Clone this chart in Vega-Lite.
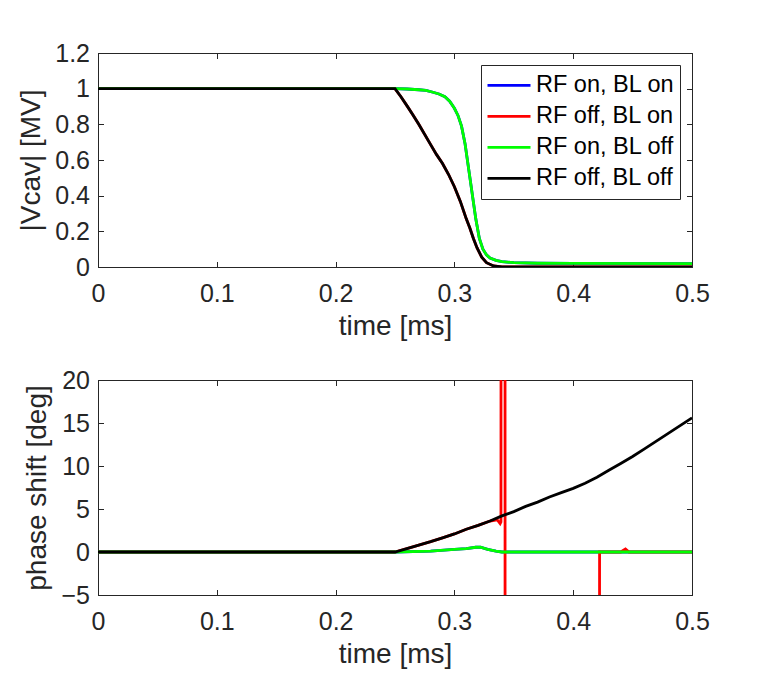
{
  "$schema": "https://vega.github.io/schema/vega-lite/v6.json",
  "background": "white",
  "padding": {"left": 17, "top": 40, "right": 10, "bottom": 10},
  "config": {
    "font": "Liberation Sans",
    "view": {"stroke": "#262626", "strokeWidth": 1},
    "axis": {
      "grid": false, "domainColor": "#262626", "tickColor": "#262626",
      "labelColor": "#262626", "titleColor": "#262626",
      "labelFont": "Liberation Sans", "titleFont": "Liberation Sans",
      "labelFontSize": 25, "titleFontSize": 28, "titleFontWeight": "normal",
      "tickSize": -5.5, "labelFlush": false, "labelOverlap": false, "format": "~g"
    },
    "axisX": {"labelPadding": 20, "titlePadding": 6},
    "axisY": {"labelPadding": 14, "titlePadding": 9}
  },
  "datasets": {
    "vcav": [
      {"t": 0, "v": 1, "s": "RF on, BL on"},
      {"t": 0.25, "v": 1, "s": "RF on, BL on"},
      {"t": 0.26, "v": 0.998, "s": "RF on, BL on"},
      {"t": 0.27, "v": 0.994, "s": "RF on, BL on"},
      {"t": 0.276, "v": 0.99, "s": "RF on, BL on"},
      {"t": 0.282, "v": 0.98, "s": "RF on, BL on"},
      {"t": 0.287, "v": 0.97, "s": "RF on, BL on"},
      {"t": 0.292, "v": 0.955, "s": "RF on, BL on"},
      {"t": 0.296, "v": 0.93, "s": "RF on, BL on"},
      {"t": 0.3, "v": 0.89, "s": "RF on, BL on"},
      {"t": 0.303, "v": 0.85, "s": "RF on, BL on"},
      {"t": 0.306, "v": 0.79, "s": "RF on, BL on"},
      {"t": 0.309, "v": 0.69, "s": "RF on, BL on"},
      {"t": 0.312, "v": 0.55, "s": "RF on, BL on"},
      {"t": 0.315, "v": 0.41, "s": "RF on, BL on"},
      {"t": 0.318, "v": 0.27, "s": "RF on, BL on"},
      {"t": 0.321, "v": 0.16, "s": "RF on, BL on"},
      {"t": 0.324, "v": 0.1, "s": "RF on, BL on"},
      {"t": 0.327, "v": 0.068, "s": "RF on, BL on"},
      {"t": 0.33, "v": 0.05, "s": "RF on, BL on"},
      {"t": 0.335, "v": 0.037, "s": "RF on, BL on"},
      {"t": 0.34, "v": 0.03, "s": "RF on, BL on"},
      {"t": 0.35, "v": 0.024, "s": "RF on, BL on"},
      {"t": 0.37, "v": 0.021, "s": "RF on, BL on"},
      {"t": 0.4, "v": 0.02, "s": "RF on, BL on"},
      {"t": 0.5, "v": 0.019, "s": "RF on, BL on"},

      {"t": 0, "v": 1, "s": "RF off, BL on"},
      {"t": 0.25, "v": 1, "s": "RF off, BL on"},
      {"t": 0.255, "v": 0.955, "s": "RF off, BL on"},
      {"t": 0.26, "v": 0.905, "s": "RF off, BL on"},
      {"t": 0.265, "v": 0.854, "s": "RF off, BL on"},
      {"t": 0.27, "v": 0.8, "s": "RF off, BL on"},
      {"t": 0.28, "v": 0.686, "s": "RF off, BL on"},
      {"t": 0.285, "v": 0.63, "s": "RF off, BL on"},
      {"t": 0.29, "v": 0.58, "s": "RF off, BL on"},
      {"t": 0.295, "v": 0.52, "s": "RF off, BL on"},
      {"t": 0.3, "v": 0.45, "s": "RF off, BL on"},
      {"t": 0.305, "v": 0.368, "s": "RF off, BL on"},
      {"t": 0.31, "v": 0.27, "s": "RF off, BL on"},
      {"t": 0.313, "v": 0.219, "s": "RF off, BL on"},
      {"t": 0.316, "v": 0.16, "s": "RF off, BL on"},
      {"t": 0.319, "v": 0.108, "s": "RF off, BL on"},
      {"t": 0.323, "v": 0.055, "s": "RF off, BL on"},
      {"t": 0.327, "v": 0.024, "s": "RF off, BL on"},
      {"t": 0.333, "v": 0.006, "s": "RF off, BL on"},
      {"t": 0.34, "v": 0.001, "s": "RF off, BL on"},
      {"t": 0.5, "v": 0, "s": "RF off, BL on"},

      {"t": 0, "v": 1, "s": "RF on, BL off"},
      {"t": 0.25, "v": 1, "s": "RF on, BL off"},
      {"t": 0.26, "v": 0.998, "s": "RF on, BL off"},
      {"t": 0.27, "v": 0.994, "s": "RF on, BL off"},
      {"t": 0.276, "v": 0.99, "s": "RF on, BL off"},
      {"t": 0.282, "v": 0.98, "s": "RF on, BL off"},
      {"t": 0.287, "v": 0.97, "s": "RF on, BL off"},
      {"t": 0.292, "v": 0.955, "s": "RF on, BL off"},
      {"t": 0.296, "v": 0.93, "s": "RF on, BL off"},
      {"t": 0.3, "v": 0.89, "s": "RF on, BL off"},
      {"t": 0.303, "v": 0.85, "s": "RF on, BL off"},
      {"t": 0.306, "v": 0.79, "s": "RF on, BL off"},
      {"t": 0.309, "v": 0.69, "s": "RF on, BL off"},
      {"t": 0.312, "v": 0.55, "s": "RF on, BL off"},
      {"t": 0.315, "v": 0.41, "s": "RF on, BL off"},
      {"t": 0.318, "v": 0.27, "s": "RF on, BL off"},
      {"t": 0.321, "v": 0.16, "s": "RF on, BL off"},
      {"t": 0.324, "v": 0.1, "s": "RF on, BL off"},
      {"t": 0.327, "v": 0.068, "s": "RF on, BL off"},
      {"t": 0.33, "v": 0.05, "s": "RF on, BL off"},
      {"t": 0.335, "v": 0.037, "s": "RF on, BL off"},
      {"t": 0.34, "v": 0.03, "s": "RF on, BL off"},
      {"t": 0.35, "v": 0.024, "s": "RF on, BL off"},
      {"t": 0.37, "v": 0.021, "s": "RF on, BL off"},
      {"t": 0.4, "v": 0.02, "s": "RF on, BL off"},
      {"t": 0.5, "v": 0.019, "s": "RF on, BL off"},

      {"t": 0, "v": 1, "s": "RF off, BL off"},
      {"t": 0.25, "v": 1, "s": "RF off, BL off"},
      {"t": 0.255, "v": 0.955, "s": "RF off, BL off"},
      {"t": 0.26, "v": 0.905, "s": "RF off, BL off"},
      {"t": 0.265, "v": 0.854, "s": "RF off, BL off"},
      {"t": 0.27, "v": 0.8, "s": "RF off, BL off"},
      {"t": 0.28, "v": 0.686, "s": "RF off, BL off"},
      {"t": 0.285, "v": 0.63, "s": "RF off, BL off"},
      {"t": 0.29, "v": 0.58, "s": "RF off, BL off"},
      {"t": 0.295, "v": 0.52, "s": "RF off, BL off"},
      {"t": 0.3, "v": 0.45, "s": "RF off, BL off"},
      {"t": 0.305, "v": 0.368, "s": "RF off, BL off"},
      {"t": 0.31, "v": 0.27, "s": "RF off, BL off"},
      {"t": 0.313, "v": 0.219, "s": "RF off, BL off"},
      {"t": 0.316, "v": 0.16, "s": "RF off, BL off"},
      {"t": 0.319, "v": 0.108, "s": "RF off, BL off"},
      {"t": 0.323, "v": 0.055, "s": "RF off, BL off"},
      {"t": 0.327, "v": 0.024, "s": "RF off, BL off"},
      {"t": 0.333, "v": 0.006, "s": "RF off, BL off"},
      {"t": 0.34, "v": 0.001, "s": "RF off, BL off"},
      {"t": 0.5, "v": 0, "s": "RF off, BL off"}
    ],
    "phase": [
      {"t": 0, "v": 0, "s": "RF on, BL on"},
      {"t": 0.25, "v": 0, "s": "RF on, BL on"},
      {"t": 0.28, "v": 0.1, "s": "RF on, BL on"},
      {"t": 0.3, "v": 0.3, "s": "RF on, BL on"},
      {"t": 0.31, "v": 0.4, "s": "RF on, BL on"},
      {"t": 0.318, "v": 0.55, "s": "RF on, BL on"},
      {"t": 0.322, "v": 0.55, "s": "RF on, BL on"},
      {"t": 0.328, "v": 0.3, "s": "RF on, BL on"},
      {"t": 0.335, "v": 0.1, "s": "RF on, BL on"},
      {"t": 0.34, "v": 0, "s": "RF on, BL on"},
      {"t": 0.5, "v": 0, "s": "RF on, BL on"},

      {"t": 0, "v": 0, "s": "RF off, BL on"},
      {"t": 0.25, "v": 0, "s": "RF off, BL on"},
      {"t": 0.26, "v": 0.4, "s": "RF off, BL on"},
      {"t": 0.27, "v": 0.8, "s": "RF off, BL on"},
      {"t": 0.28, "v": 1.2, "s": "RF off, BL on"},
      {"t": 0.29, "v": 1.65, "s": "RF off, BL on"},
      {"t": 0.3, "v": 2.1, "s": "RF off, BL on"},
      {"t": 0.31, "v": 2.65, "s": "RF off, BL on"},
      {"t": 0.32, "v": 3.1, "s": "RF off, BL on"},
      {"t": 0.33, "v": 3.6, "s": "RF off, BL on"},
      {"t": 0.336, "v": 3.75, "s": "RF off, BL on"},
      {"t": 0.3385, "v": 3.3, "s": "RF off, BL on"},
      {"t": 0.3392, "v": 3.5, "s": "RF off, BL on"},
      {"t": 0.3395, "v": 180, "s": "RF off, BL on"},
      {"t": 0.3425, "v": 180, "s": "RF off, BL on"},
      {"t": 0.3428, "v": -180, "s": "RF off, BL on"},
      {"t": 0.4215, "v": -180, "s": "RF off, BL on"},
      {"t": 0.4222, "v": 0, "s": "RF off, BL on"},
      {"t": 0.44, "v": 0, "s": "RF off, BL on"},
      {"t": 0.444, "v": 0.35, "s": "RF off, BL on"},
      {"t": 0.447, "v": 0, "s": "RF off, BL on"},
      {"t": 0.5, "v": 0, "s": "RF off, BL on"},

      {"t": 0, "v": 0, "s": "RF on, BL off"},
      {"t": 0.25, "v": 0, "s": "RF on, BL off"},
      {"t": 0.28, "v": 0.1, "s": "RF on, BL off"},
      {"t": 0.3, "v": 0.3, "s": "RF on, BL off"},
      {"t": 0.31, "v": 0.4, "s": "RF on, BL off"},
      {"t": 0.318, "v": 0.55, "s": "RF on, BL off"},
      {"t": 0.322, "v": 0.55, "s": "RF on, BL off"},
      {"t": 0.328, "v": 0.3, "s": "RF on, BL off"},
      {"t": 0.335, "v": 0.1, "s": "RF on, BL off"},
      {"t": 0.34, "v": 0, "s": "RF on, BL off"},
      {"t": 0.5, "v": 0, "s": "RF on, BL off"},

      {"t": 0, "v": 0, "s": "RF off, BL off"},
      {"t": 0.25, "v": 0, "s": "RF off, BL off"},
      {"t": 0.26, "v": 0.4, "s": "RF off, BL off"},
      {"t": 0.27, "v": 0.8, "s": "RF off, BL off"},
      {"t": 0.28, "v": 1.2, "s": "RF off, BL off"},
      {"t": 0.29, "v": 1.65, "s": "RF off, BL off"},
      {"t": 0.3, "v": 2.1, "s": "RF off, BL off"},
      {"t": 0.31, "v": 2.65, "s": "RF off, BL off"},
      {"t": 0.32, "v": 3.1, "s": "RF off, BL off"},
      {"t": 0.33, "v": 3.6, "s": "RF off, BL off"},
      {"t": 0.34, "v": 4.2, "s": "RF off, BL off"},
      {"t": 0.35, "v": 4.7, "s": "RF off, BL off"},
      {"t": 0.36, "v": 5.3, "s": "RF off, BL off"},
      {"t": 0.37, "v": 5.8, "s": "RF off, BL off"},
      {"t": 0.38, "v": 6.4, "s": "RF off, BL off"},
      {"t": 0.39, "v": 6.9, "s": "RF off, BL off"},
      {"t": 0.4, "v": 7.4, "s": "RF off, BL off"},
      {"t": 0.41, "v": 8.0, "s": "RF off, BL off"},
      {"t": 0.42, "v": 8.7, "s": "RF off, BL off"},
      {"t": 0.43, "v": 9.5, "s": "RF off, BL off"},
      {"t": 0.44, "v": 10.3, "s": "RF off, BL off"},
      {"t": 0.45, "v": 11.1, "s": "RF off, BL off"},
      {"t": 0.46, "v": 12.0, "s": "RF off, BL off"},
      {"t": 0.47, "v": 12.9, "s": "RF off, BL off"},
      {"t": 0.48, "v": 13.8, "s": "RF off, BL off"},
      {"t": 0.49, "v": 14.7, "s": "RF off, BL off"},
      {"t": 0.5, "v": 15.6, "s": "RF off, BL off"}
    ]
  },
  "bounds": "flush",
  "spacing": 113,
  "resolve": {"scale": {"color": "independent"}, "legend": {"color": "independent"}},
  "vconcat": [
    {
      "width": 594, "height": 214,
      "data": {"name": "vcav"},
      "encoding": {
        "x": {"field": "t", "type": "quantitative", "scale": {"domain": [0, 0.5], "nice": false}, "axis": null},
        "y": {"field": "v", "type": "quantitative", "scale": {"domain": [0, 1.2], "nice": false, "zero": false}, "axis": null},
        "color": {
          "field": "s", "type": "nominal",
          "scale": {"domain": ["RF on, BL on", "RF off, BL on", "RF on, BL off", "RF off, BL off"], "range": ["#0000ff", "#ff0000", "#00ff00", "#000000"]},
          "legend": {
            "orient": "none", "legendX": 383, "legendY": 12, "title": null,
            "strokeColor": "#262626", "fillColor": "white", "padding": 5,
            "labelFontSize": 23.5, "labelColor": "#000000", "labelLimit": 300,
            "symbolType": "stroke", "symbolSize": 1849, "symbolStrokeWidth": 2.8,
            "clipHeight": 30.7, "rowPadding": 0, "labelOffset": 4
          }
        }
      },
      "layer": [
        {
          "transform": [{"filter": "datum.s === 'RF on, BL on'"}],
          "mark": {"type": "line", "strokeWidth": 2.8, "clip": true},
          "encoding": {
            "x": {"field": "t", "type": "quantitative", "scale": {"domain": [0, 0.5], "nice": false}, "axis": {"orient": "bottom", "values": [0, 0.1, 0.2, 0.3, 0.4, 0.5], "title": "time [ms]"}},
            "y": {"field": "v", "type": "quantitative", "scale": {"domain": [0, 1.2], "nice": false, "zero": false}, "axis": {"orient": "left", "values": [0, 0.2, 0.4, 0.6, 0.8, 1, 1.2], "title": "|Vcav| [MV]"}}
          }
        },
        {
          "transform": [{"filter": "datum.s === 'RF off, BL on'"}],
          "mark": {"type": "line", "strokeWidth": 2.8, "clip": true},
          "encoding": {
            "x": {"field": "t", "type": "quantitative", "scale": {"domain": [0, 0.5], "nice": false}, "axis": {"orient": "top", "values": [0, 0.1, 0.2, 0.3, 0.4, 0.5], "labels": false, "title": null}},
            "y": {"field": "v", "type": "quantitative", "scale": {"domain": [0, 1.2], "nice": false, "zero": false}, "axis": {"orient": "right", "values": [0, 0.2, 0.4, 0.6, 0.8, 1, 1.2], "labels": false, "title": null}}
          }
        },
        {
          "transform": [{"filter": "datum.s === 'RF on, BL off'"}],
          "mark": {"type": "line", "strokeWidth": 2.8, "clip": true}
        },
        {
          "transform": [{"filter": "datum.s === 'RF off, BL off'"}],
          "mark": {"type": "line", "strokeWidth": 2.8, "clip": true}
        }
      ],
      "resolve": {"axis": {"x": "independent", "y": "independent"}}
    },
    {
      "width": 594, "height": 215,
      "data": {"name": "phase"},
      "encoding": {
        "x": {"field": "t", "type": "quantitative", "scale": {"domain": [0, 0.5], "nice": false}, "axis": null},
        "y": {"field": "v", "type": "quantitative", "scale": {"domain": [-5, 20], "nice": false, "zero": false}, "axis": null},
        "color": {
          "field": "s", "type": "nominal",
          "scale": {"domain": ["RF on, BL on", "RF off, BL on", "RF on, BL off", "RF off, BL off"], "range": ["#0000ff", "#ff0000", "#00ff00", "#000000"]},
          "legend": null
        }
      },
      "layer": [
        {
          "transform": [{"filter": "datum.s === 'RF on, BL on'"}],
          "mark": {"type": "line", "strokeWidth": 2.8, "clip": true},
          "encoding": {
            "x": {"field": "t", "type": "quantitative", "scale": {"domain": [0, 0.5], "nice": false}, "axis": {"orient": "bottom", "values": [0, 0.1, 0.2, 0.3, 0.4, 0.5], "title": "time [ms]"}},
            "y": {"field": "v", "type": "quantitative", "scale": {"domain": [-5, 20], "nice": false, "zero": false}, "axis": {"orient": "left", "values": [-5, 0, 5, 10, 15, 20], "title": "phase shift [deg]"}}
          }
        },
        {
          "transform": [{"filter": "datum.s === 'RF off, BL on'"}],
          "mark": {"type": "line", "strokeWidth": 2.8, "clip": true},
          "encoding": {
            "x": {"field": "t", "type": "quantitative", "scale": {"domain": [0, 0.5], "nice": false}, "axis": {"orient": "top", "values": [0, 0.1, 0.2, 0.3, 0.4, 0.5], "labels": false, "title": null}},
            "y": {"field": "v", "type": "quantitative", "scale": {"domain": [-5, 20], "nice": false, "zero": false}, "axis": {"orient": "right", "values": [-5, 0, 5, 10, 15, 20], "labels": false, "title": null}}
          }
        },
        {
          "transform": [{"filter": "datum.s === 'RF on, BL off'"}],
          "mark": {"type": "line", "strokeWidth": 2.8, "clip": true}
        },
        {
          "transform": [{"filter": "datum.s === 'RF off, BL off'"}],
          "mark": {"type": "line", "strokeWidth": 2.8, "clip": true}
        }
      ],
      "resolve": {"axis": {"x": "independent", "y": "independent"}}
    }
  ]
}
